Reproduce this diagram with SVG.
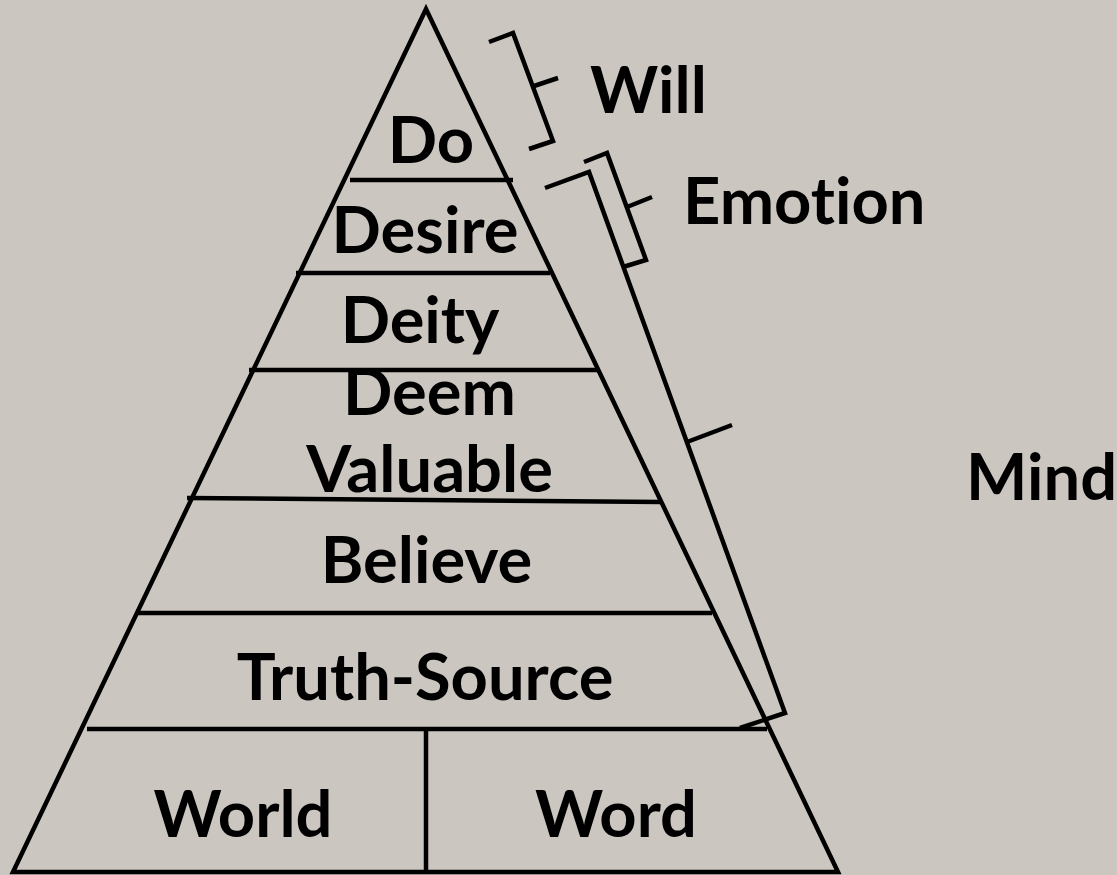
<svg xmlns="http://www.w3.org/2000/svg" width="1117" height="875" viewBox="0 0 1117 875">
<style>
.ln{stroke:#000;stroke-width:4.5;fill:none;stroke-linecap:butt;stroke-linejoin:miter}
.t{font-family:Lato,"Noto Sans","DejaVu Sans",sans-serif;font-weight:700;font-size:65px;fill:#000;font-variant-ligatures:none}
.m{text-anchor:middle}
</style>
<rect x="0" y="0" width="1117" height="875" fill="#ccc6c0"/>
<g id="pyramid">
<polygon class="ln" points="426,9 13,872 838,872"/>
<line class="ln" x1="350" y1="180" x2="513" y2="180"/>
<line class="ln" x1="296" y1="273" x2="550" y2="273"/>
<line class="ln" x1="249" y1="370" x2="598" y2="370"/>
<line class="ln" x1="187" y1="498" x2="662" y2="502"/>
<line class="ln" x1="137" y1="613" x2="712" y2="613"/>
<line class="ln" x1="87" y1="729" x2="767" y2="729"/>
<line class="ln" x1="426" y1="729" x2="426" y2="872"/>
</g>
<g id="do"><text class="t m" x="431" y="163">Do</text></g>
<g id="desire"><text class="t m" x="425" y="253">Desire</text></g>
<g id="deity"><text class="t m" x="420" y="343">Deity</text></g>
<g id="deem-valuable"><text class="t m" x="429.5" y="415">Deem</text><text class="t m" x="429.5" y="492">Valuable</text></g>
<g id="believe"><text class="t m" x="426.5" y="583">Believe</text></g>
<g id="truth-source"><text class="t m" x="425" y="700">Truth-Source</text></g>
<g id="world"><text class="t m" x="243" y="837">World</text></g>
<g id="word"><text class="t m" x="616" y="837">Word</text></g>
<g id="will"><text class="t" x="590" y="113">Will</text></g>
<g id="emotion"><text class="t" x="683" y="224">Emotion</text></g>
<g id="mind"><text class="t" x="966" y="500">Mind</text></g>
<g id="connectors">
<polyline class="ln" points="489,42 513,33 553,141 529,149"/>
<line class="ln" x1="534" y1="86" x2="558" y2="78"/>
<polyline class="ln" points="584,162 607,153 646,260 623,267"/>
<line class="ln" x1="627" y1="207" x2="652" y2="197"/>
<polyline class="ln" points="545,188 589,172 785,713 740,728"/>
<line class="ln" x1="687" y1="442" x2="732" y2="425"/>
</g>
</svg>
